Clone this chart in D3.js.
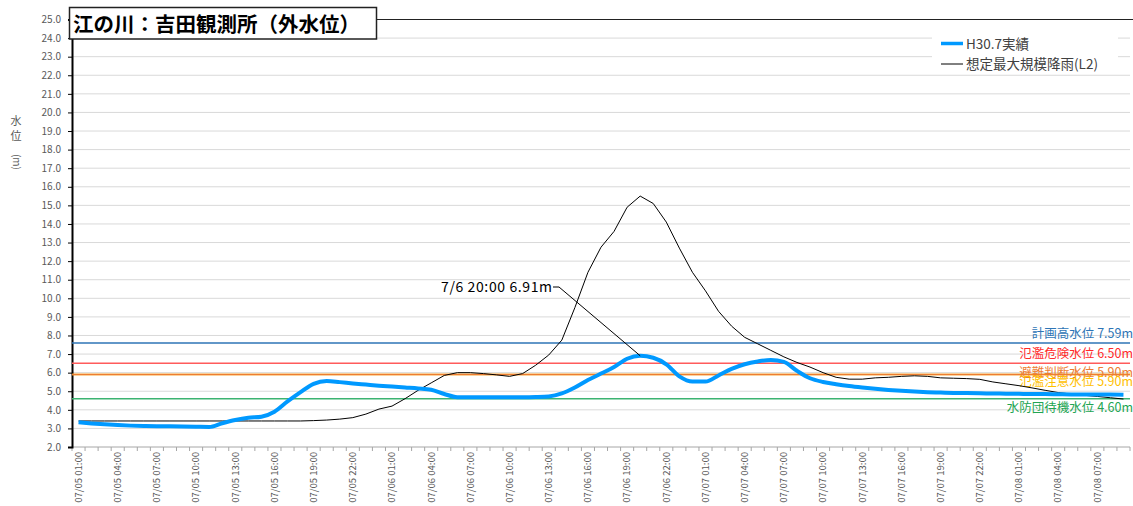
<!DOCTYPE html>
<html>
<head>
<meta charset="utf-8">
<script src="https://cdn.jsdelivr.net/npm/d3@7"></script>
<style>
  body { margin: 0; background: #fff; }
  svg { display: block; font-family: "Noto Sans CJK JP", "Noto Sans", sans-serif; }
</style>
</head>
<body>
<svg id="chart" width="1133" height="506"></svg>
<script>
  // hourly observation times 07/05 01:00 .. 07/08 09:00
  const times = d3.timeHour.range(new Date(2018, 6, 5, 1), new Date(2018, 6, 8, 10));

  // H30.7 observed
  const actual = [
    3.33, 3.27, 3.22, 3.18, 3.15, 3.13, 3.12, 3.11, 3.10, 3.09,
    3.08, 3.28, 3.45, 3.57, 3.63, 3.90, 4.45, 4.95, 5.40, 5.55,
    5.49, 5.42, 5.36, 5.30, 5.25, 5.20, 5.15, 5.08, 4.85, 4.68,
    4.67, 4.67, 4.68, 4.68, 4.68, 4.69, 4.72, 4.88, 5.20, 5.60,
    5.95, 6.30, 6.75, 6.91, 6.80, 6.45, 5.80, 5.52, 5.52, 5.85,
    6.20, 6.45, 6.60, 6.68, 6.58, 6.10, 5.70, 5.50, 5.38, 5.28,
    5.20, 5.13, 5.07, 5.02, 4.98, 4.95, 4.93, 4.91, 4.90, 4.89,
    4.88, 4.87, 4.86, 4.85, 4.85, 4.84, 4.83, 4.83, 4.82, 4.82,
    4.81
  ];

  // assumed maximum rainfall (L2)
  const l2 = [
    3.40, 3.40, 3.40, 3.40, 3.40, 3.40, 3.40, 3.40, 3.40, 3.40,
    3.40, 3.40, 3.40, 3.40, 3.40, 3.40, 3.40, 3.40, 3.42, 3.45,
    3.50, 3.58, 3.77, 4.04, 4.20, 4.60, 5.05, 5.45, 5.85, 6.00,
    6.00, 5.95, 5.88, 5.80, 5.95, 6.40, 6.95, 7.75, 9.50, 11.40,
    12.75, 13.60, 14.90, 15.50, 15.10, 14.10, 12.70, 11.40, 10.40, 9.30,
    8.50, 7.90, 7.55, 7.20, 6.85, 6.55, 6.30, 6.00, 5.75, 5.65,
    5.65, 5.72, 5.75, 5.80, 5.83, 5.80, 5.72, 5.70, 5.68, 5.64,
    5.50, 5.40, 5.30, 5.18, 5.05, 4.93, 4.85, 4.78, 4.72, 4.65,
    4.58
  ];

  const levelNames = ["計画高水位", "氾濫危険水位", "避難判断水位", "氾濫注意水位", "水防団待機水位"];
  const levelValues = [7.59, 6.50, 5.90, 5.90, 4.60];
  const levelColors = ["#2e75b6", "#ff5b5b", "#ed7d31", "#ffc000", "#3cb371"];
  const levelTextColors = ["#2e75b6", "#ff2a2a", "#ed7d31", "#ffc000", "#22a552"];
  const levelLabelDy = [-5, -5, 2, 11, 13];

  const svg = d3.select("#chart");
  const plotLeft = 72, plotRight = 1130, plotTop = 19.5, plotBottom = 447;

  const x = d3.scaleBand().domain(d3.range(times.length)).range([plotLeft, plotRight]);
  const cx = i => x(i) + x.bandwidth() / 2;
  const y = d3.scaleLinear().domain([2, 25]).range([plotBottom, plotTop]);

  // gridlines
  svg.append("g")
    .selectAll("line")
    .data(d3.range(3, 25))
    .join("line")
    .attr("x1", plotLeft).attr("x2", plotRight)
    .attr("y1", d => y(d)).attr("y2", d => y(d))
    .attr("stroke", "#d9d9d9");

  // top border
  svg.append("line")
    .attr("x1", plotLeft).attr("x2", 1133)
    .attr("y1", y(25)).attr("y2", y(25))
    .attr("stroke", "#222").attr("stroke-width", 1.2);

  // x axis
  const fmt = d3.timeFormat("%m/%d %H:%M");
  const gx = svg.append("g").attr("transform", `translate(0,${plotBottom})`);
  gx.append("line").attr("x1", plotLeft).attr("x2", plotRight).attr("stroke", "#a6a6a6");
  gx.selectAll(".tk")
    .data(d3.range(times.length + 1))
    .join("line")
    .attr("class", "tk")
    .attr("x1", i => plotLeft + i * x.bandwidth()).attr("x2", i => plotLeft + i * x.bandwidth())
    .attr("y1", 0).attr("y2", 4)
    .attr("stroke", "#a6a6a6");
  gx.selectAll(".lb")
    .data(d3.range(0, times.length, 3))
    .join("text")
    .attr("class", "lb")
    .attr("transform", i => `translate(${cx(i)},5) rotate(-90)`)
    .attr("text-anchor", "end")
    .attr("dy", "0.35em")
    .attr("font-size", 9.5)
    .attr("fill", "#595959")
    .text(i => fmt(times[i]));

  // y axis
  const gy = svg.append("g").attr("transform", `translate(${plotLeft},0)`);
  gy.call(d3.axisLeft(y).tickValues(d3.range(2, 26)).tickFormat(d3.format(".1f")).tickSize(4).tickPadding(7));
  gy.select(".domain").attr("stroke", "#000").attr("stroke-width", 2);
  gy.selectAll(".tick line").attr("stroke", "#000");
  gy.selectAll(".tick text").attr("fill", "#595959").attr("font-size", 10)
    .attr("font-family", "Noto Sans CJK JP");

  // y axis title
  const yt = svg.append("g").attr("fill", "#595959").attr("font-size", 11);
  yt.append("text").attr("x", 16).attr("y", 125).attr("text-anchor", "middle").text("水");
  yt.append("text").attr("x", 16).attr("y", 140).attr("text-anchor", "middle").text("位");
  yt.append("text").attr("transform", "translate(13,162) rotate(90)")
    .attr("text-anchor", "middle").attr("font-size", 10).text("(m)");

  // water level reference lines (yellow drawn first, hidden under orange)
  const gl = svg.append("g");
  [4, 3, 2, 1, 0].forEach(k => {
    gl.append("line")
      .attr("x1", plotLeft).attr("x2", plotRight)
      .attr("y1", y(levelValues[k])).attr("y2", y(levelValues[k]))
      .attr("stroke", levelColors[k]).attr("stroke-width", 1.5);
  });
  levelValues.forEach((v, k) => {
    gl.append("text")
      .attr("x", 1133).attr("y", y(v) + levelLabelDy[k])
      .attr("text-anchor", "end")
      .attr("font-size", 12.5)
      .attr("fill", levelTextColors[k])
      .text(`${levelNames[k]} ${v.toFixed(2)}m`);
  });

  // series
  const line = d3.line().x((d, i) => cx(i)).y(d => y(d));
  svg.append("path").datum(l2)
    .attr("fill", "none").attr("stroke", "#000").attr("stroke-width", 1)
    .attr("d", line);
  svg.append("path").datum(actual)
    .attr("fill", "none").attr("stroke", "#0099ff").attr("stroke-width", 4)
    .attr("stroke-linejoin", "round")
    .attr("d", line.curve(d3.curveMonotoneX));

  // peak annotation
  const peak = d3.maxIndex(actual);
  svg.append("polyline")
    .attr("points", `553,287 559,287 ${cx(peak)},${y(actual[peak])}`)
    .attr("fill", "none").attr("stroke", "#000").attr("stroke-width", 1);
  svg.append("text")
    .attr("x", 441).attr("y", 292)
    .attr("font-size", 14)
    .attr("textLength", 111)
    .attr("fill", "#000")
    .text(`7/6 ${d3.timeFormat("%H:%M")(times[peak])} ${actual[peak].toFixed(2)}m`);

  // legend
  const lg = svg.append("g");
  lg.append("rect").attr("x", 932).attr("y", 30).attr("width", 186).attr("height", 44).attr("fill", "#fff");
  lg.append("line").attr("x1", 941).attr("x2", 963).attr("y1", 43.5).attr("y2", 43.5)
    .attr("stroke", "#0099ff").attr("stroke-width", 3.5);
  lg.append("line").attr("x1", 941).attr("x2", 963).attr("y1", 64).attr("y2", 64)
    .attr("stroke", "#000").attr("stroke-width", 1);
  lg.append("text").attr("x", 966).attr("y", 48.5).attr("font-size", 13.5).attr("fill", "#404040").text("H30.7実績");
  lg.append("text").attr("x", 966).attr("y", 69).attr("font-size", 13.5).attr("fill", "#404040").text("想定最大規模降雨(L2)");

  // title box
  svg.append("rect").attr("x", 69.5).attr("y", 7.5).attr("width", 307).attr("height", 31.5)
    .attr("fill", "#fff").attr("stroke", "#222").attr("stroke-width", 1.5);
  svg.append("text").attr("x", 73).attr("y", 31.5)
    .attr("font-size", 20.5).attr("font-weight", "bold").attr("fill", "#000")
    .text("江の川：吉田観測所（外水位）");
</script>
</body>
</html>
